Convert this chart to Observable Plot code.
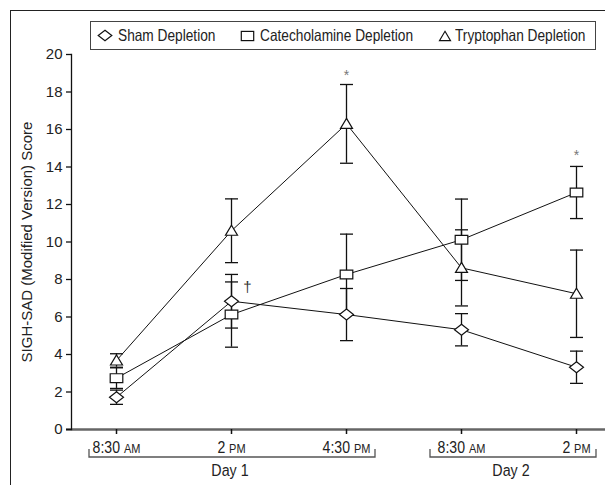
<!DOCTYPE html>
<html><head><meta charset="utf-8">
<script src="https://cdn.jsdelivr.net/npm/d3@7"></script>
<script src="https://cdn.jsdelivr.net/npm/@observablehq/plot@0.6"></script>
<style>
body{margin:0;background:#fff;}
#wrap{position:relative;width:605px;height:485px;overflow:hidden;font-family:"Liberation Sans Narrow","Arial Narrow","Liberation Sans",sans-serif;color:#222;}
#frame{position:absolute;left:10px;top:10px;width:800px;height:800px;border-left:1.6px solid #222;border-top:1.6px solid #222;pointer-events:none;}
#legend{position:absolute;left:90px;top:21px;width:506px;height:29px;border:1.2px solid #444;box-sizing:border-box;background:#fff;}
.item{position:absolute;top:0;height:27px;display:flex;align-items:center;font-size:16.5px;white-space:nowrap;}
.item svg{overflow:visible;}
.item span{display:inline-block;transform:scaleX(0.83);transform-origin:0 50%;}
#chart{position:absolute;left:0;top:0;}
</style></head>
<body><div id="wrap"><div id="chart"></div><div id="frame"></div><div id="legend"></div></div>
<script>
// ---- data ----
const times = ["d1-0830","d1-1400","d1-1630","d2-0830","d2-1400"];
const timeLabels = ["8:30 AM","2 PM","4:30 PM","8:30 AM","2 PM"];
const dayGroups = [{day:"Day 1", from:0, to:2}, {day:"Day 2", from:3, to:4}];
const series = ["Sham Depletion","Catecholamine Depletion","Tryptophan Depletion"];
const shamMean = [1.72, 6.84, 6.13, 5.32, 3.32];
const shamErr  = [0.38, 1.43, 1.39, 0.86, 0.86];
const catMean  = [2.74, 6.13, 8.27, 10.12, 12.64];
const catErr   = [0.55, 1.74, 2.15, 2.17, 1.39];
const trpMean  = [3.68, 10.6, 16.3, 8.62, 7.24];
const trpErr   = [0.36, 1.70, 2.10, 2.03, 2.33];
const yTicks = [0,2,4,6,8,10,12,14,16,18,20];
const notes = [
  {time:"d1-1630", value:19.06, label:"*"},
  {time:"d2-1400", value:14.79, label:"*"},
  {time:"d1-1400", value:7.6, label:"\u2020"}
];

const build = (name, m, e) => times.map((t,i)=>({series:name, time:t, value:m[i], err:e[i]}));
const sham = build(series[0], shamMean, shamErr);
const cat  = build(series[1], catMean, catErr);
const trp  = build(series[2], trpMean, trpErr);
const rows = [...sham, ...cat, ...trp];

// ---- symbols ----
const diamond = {draw(c){c.moveTo(0,-5.5);c.lineTo(7,0);c.lineTo(0,5.5);c.lineTo(-7,0);c.closePath();}};
const square  = {draw(c){c.rect(-6.3,-4.4,12.6,8.8);}};
const triangle= {draw(c){c.moveTo(0,-5.5);c.lineTo(6,4.5);c.lineTo(-6,4.5);c.closePath();}};
const cap     = {draw(c){c.moveTo(-6.5,0);c.lineTo(6.5,0);}};

const ink = "#111";
const plot = Plot.plot({
  width: 605, height: 485,
  marginLeft: 71, marginRight: 0, marginTop: 54, marginBottom: 56,
  style: {fontFamily: '"Liberation Sans Narrow","Arial Narrow","Liberation Sans",sans-serif', fontSize: "15px", color: "#222", background: "transparent"},
  x: {type: "point", domain: times, range: [115, 577], padding: 0},
  y: {domain: [0, 20], range: [429, 54]},
  marks: [
    Plot.ruleY([0], {stroke: "#666", strokeWidth: 2.5, insetLeft: -5}),
    Plot.frame({anchor: "left", stroke: ink, strokeWidth: 1.3}),
    Plot.axisY({ticks: yTicks, tickSize: 5, tickPadding: 4, fontSize: 15, stroke: ink, strokeWidth: 1.3,
      label: "SIGH-SAD (Modified Version) Score", labelAnchor: "center", labelOffset: 50, labelArrow: false}),
    Plot.axisX({tickSize: 5, tickPadding: 7, fontSize: 16, stroke: ink, strokeWidth: 1.5,
      tickFormat: d => timeLabels[times.indexOf(d)], label: null}),
    Plot.line(rows, {x: "time", y: "value", z: "series", stroke: ink, strokeWidth: 1}),
    Plot.ruleX(rows, {x: "time", y1: d => d.value - d.err, y2: d => d.value + d.err, stroke: ink, strokeWidth: 1.3}),
    Plot.dot(rows, {x: "time", y: d => d.value + d.err, symbol: cap, stroke: ink, strokeWidth: 1.3, fill: "none"}),
    Plot.dot(rows, {x: "time", y: d => d.value - d.err, symbol: cap, stroke: ink, strokeWidth: 1.3, fill: "none"}),
    Plot.dot(sham, {x: "time", y: "value", symbol: diamond, stroke: ink, strokeWidth: 1.2, fill: "white"}),
    Plot.dot(cat,  {x: "time", y: "value", symbol: square, stroke: ink, strokeWidth: 1.2, fill: "white"}),
    Plot.dot(trp,  {x: "time", y: "value", symbol: triangle, stroke: ink, strokeWidth: 1.2, fill: "white"}),
    Plot.text(notes.filter(d => d.label === "*"), {x: "time", y: "value", text: "label", fill: "#777", fontSize: 14, dy: 3.5}),
    Plot.text(notes.filter(d => d.label !== "*"), {x: "time", y: "value", text: "label", fill: "#333", fontSize: 15, dx: 16})
  ]
});
document.getElementById("chart").appendChild(plot);

const svg = d3.select(plot);
function squeeze(node, s) {
  const b = node.getBBox(); const cx = b.x + b.width / 2;
  const t = node.getAttribute("transform") || "";
  node.setAttribute("transform", `${t} translate(${cx},0) scale(${s},1) translate(${-cx},0)`);
}
// small-caps AM/PM in x tick labels
svg.selectAll('g[aria-label="x-axis tick label"] text').each(function(){
  const t = d3.select(this); const s = t.text(); const m = s.match(/^(.*?)(AM|PM)$/);
  if (m) {
    t.text(null);
    t.append("tspan").text(m[1]);
    t.append("tspan").attr("font-size", 12.5).text(m[2]);
  }
  squeeze(this, 0.88);
});

// day brackets
const xs = plot.scale("x");
const pads = [[27, 29], [31, 20]];
dayGroups.forEach((g, i) => {
  const x0 = xs.apply(times[g.from]) - pads[i][0];
  const x1 = xs.apply(times[g.to]) + pads[i][1];
  svg.append("path").attr("d", `M${x0},449V457H${x1}V449`).attr("fill", "none").attr("stroke", "#555").attr("stroke-width", 1.3);
  const lab = svg.append("text").attr("x", (x0 + x1) / 2 - 2).attr("y", 476).attr("text-anchor", "middle")
    .attr("font-size", 17).attr("fill", "#222").text(g.day);
  squeeze(lab.node(), 0.84);
});

// legend
const legendSyms = [
  '<svg width="14" height="11" viewBox="-7 -5.5 14 11"><path d="M0,-5.3L6.8,0L0,5.3L-6.8,0Z" fill="white" stroke="#111" stroke-width="1.2"/></svg>',
  '<svg width="13" height="10" viewBox="-6.5 -5 13 10"><rect x="-6.2" y="-4.6" width="12.4" height="9.2" fill="white" stroke="#111" stroke-width="1.2"/></svg>',
  '<svg width="12" height="10" viewBox="-6 -5.5 12 10.5"><path d="M0,-5.2L5.8,4.6L-5.8,4.6Z" fill="white" stroke="#111" stroke-width="1.2"/></svg>'
];
const legendLeft = [7, 150, 348];
const legendGap = [6, 6, 4];
const legend = document.getElementById("legend");
series.forEach((s, i) => {
  const el = document.createElement("div");
  el.className = "item"; el.style.left = legendLeft[i] + "px";
  el.innerHTML = legendSyms[i] + `<span style="margin-left:${legendGap[i]}px">` + s + "</span>";
  legend.appendChild(el);
});
</script></body></html>
